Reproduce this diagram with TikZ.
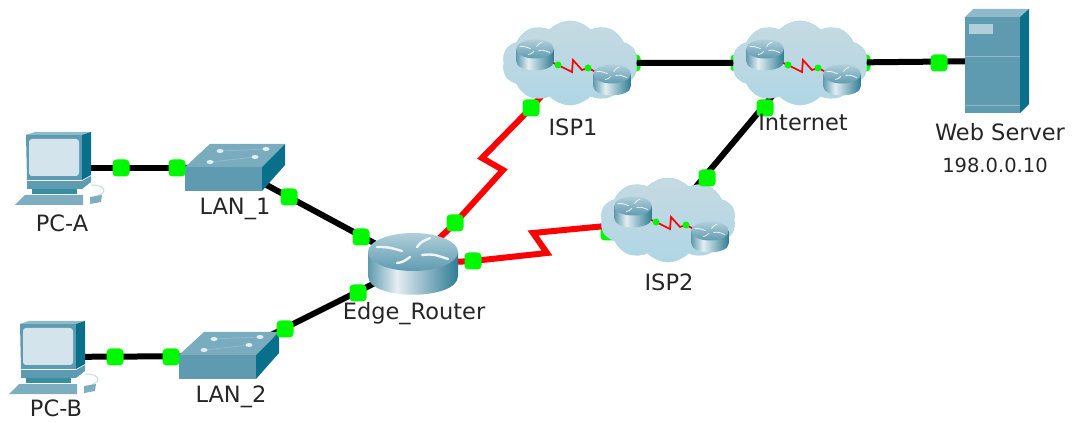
\documentclass[tikz,border=0pt]{standalone}
\usepackage{xcolor}
\usepackage{fontspec}
\setmainfont{DejaVu Sans}
\usetikzlibrary{positioning,shapes.symbols,backgrounds}

\definecolor{iconfront}{HTML}{5F9BB0}
\definecolor{icontop}{HTML}{8FBACA}
\definecolor{iconside}{HTML}{08708A}
\definecolor{portgreen}{HTML}{00F800}
\definecolor{routerdark}{HTML}{5F9AAE}
\definecolor{routerlight}{HTML}{E4EEF2}
\definecolor{routerend}{HTML}{2F7C94}
\definecolor{cloudtop}{HTML}{C6DAE2}
\definecolor{cloudbottom}{HTML}{AFD6E4}
\definecolor{pcscreen}{HTML}{D4E4EC}
\pgfdeclarehorizontalshading{routerside}{100bp}{color(0bp)=(routerdark); color(25bp)=(routerdark); color(41bp)=(routerlight); color(75bp)=(routerend); color(100bp)=(routerend)}

\tikzset{
  device/.style={inner sep=0pt, minimum size=0pt},
  ethlink/.style={line width=6pt, black},
  seriallink/.style={line width=6pt, red, line join=miter},
  portdot/.style={fill=portgreen, rounded corners=4pt, minimum size=17pt, inner sep=0pt},
  minidot/.style={fill=portgreen, circle, minimum size=7pt, inner sep=0pt},
  ispcloud/.style={cloud, cloud puffs=10, cloud puff arc=95, aspect=1.6, inner sep=0pt,
    minimum width=135pt, minimum height=84pt, draw=cloudbottom, line width=.6pt,
    top color=cloudtop, bottom color=cloudbottom},
  devlabel/.style={inner sep=0pt, text=black!85, font=\fontsize{22.5}{26}\selectfont},
  pics/routericon/.style={code={
    \path[shade, shading=routerside] (-45,-12) -- (-45,12) .. controls (-45,37) and (45,37) .. (45,12) -- (45,-12) -- cycle;
    \path[top color=icontop!70!white, bottom color=iconfront] (0,-12) ellipse [x radius=45, y radius=19];
    \draw[white!85!icontop, line width=#1, line cap=round] (-36,-17) .. controls (-25,-17) .. (-11,-13) (4,-17) .. controls (8,-22) .. (17,-26) (9,-9) .. controls (20,-10) .. (35,-5) (-16,-1) .. controls (-10,-2) .. (-3,-7);
  }},
  pics/isprouters/.style={code={
    \coordinate (-pa) at (-12,2);
    \coordinate (-pb) at (18,5);
    \draw[red, line width=1.7pt] (-35,-8) -- (-pa) -- (2,9) -- (3,-3) -- (12,7) -- (-pb) -- (42,17);
    \pic[xscale=.42, yscale=.5] at (-35,-8) {routericon=.8};
    \pic[xscale=.42, yscale=.5] at (42,17) {routericon=.8};
    \node[minidot] (-dota) at (-pa) {};
    \node[minidot] (-dotb) at (-pb) {};
  }},
  pics/switchicon/.style={code={
    \fill[iconfront] (-50,-1) -- (27,-1) -- (27,23) -- (-50,23) -- cycle;
    \fill[icontop!55!iconfront] (-50,-1) -- (-25,-24) -- (50,-24) -- (27,-1) -- cycle;
    \draw[icontop, line width=.8pt] (-15,-17) -- (31,-19) (-25,-6) -- (20,-11);
    \fill[iconside] (27,-1) -- (50,-24) -- (50,-3) -- (27,23) -- cycle;
    \foreach \px/\py in {-15/-17,31/-19,-25/-6,20/-11}
      \fill[white!75!icontop] (\px,\py) ellipse [x radius=3.5, y radius=2];
  }},
  pics/pcicon/.style={code={
    \fill[iconfront] (-26,-33) -- (30,-33) -- (30,12) -- (-25,12) -- cycle;
    \fill[icontop] (-26,-33) -- (-17,-36) -- (39,-36) -- (30,-33) -- cycle;
    \fill[iconside] (30,-33) -- (39,-36) -- (39,7) -- (30,12) -- cycle;
    \fill[pcscreen, rounded corners=3pt] (-23,-29) rectangle (27,8);
    \fill[iconfront] (-25,13) -- (30,13) -- (39,8) -- (39,14) -- (30,21) -- (-25,21) -- cycle;
    \fill[iconside!80!white] (-20,21) rectangle (25,26);
    \fill[icontop!60!iconfront] (-27,27) -- (31,27) -- (31,37) -- (-37,37) -- cycle;
    \draw[icontop!50!white, line width=1pt] (39,17) .. controls (55,17) and (55,25) .. (45,28);
    \fill[icontop!60!iconfront] (38,29) -- (50,27) -- (49,34) -- (38,36) -- cycle;
  }},
  pics/servericon/.style={code={
    \fill[iconfront] (-32,-44) rectangle (23,52);
    \fill[icontop] (-32,-44) -- (-24,-52) -- (32,-52) -- (23,-44) -- cycle;
    \fill[iconside] (23,-44) -- (32,-52) -- (32,43) -- (23,52) -- cycle;
    \fill[icontop!70!white] (-28,-37) rectangle (-4,-27);
    \draw[icontop, line width=.7pt] (-32,-5) -- (23,-5) (-32,44) -- (23,44);
  }}
}

\begin{document}
\begin{tikzpicture}[x=1pt, y=-1pt]
  \useasboundingbox (0,0) rectangle (1072,422);

  % end devices and switches
  \node[device] (pca) at (52,168) {};
  \node[device] (pcb) at (46,357) {};
  \node[device] (lan1) at (235,168) {};
  \node[device] (lan2) at (229,356) {};
  \node[device] (router) at (413,264) {};
  \node[device] (server) at (997,61) {};
  \pic at (pca) {pcicon};
  \pic at (pcb) {pcicon};
  \pic at (lan1) {switchicon};
  \pic at (lan2) {switchicon};
  \pic at (router) {routericon=2.4};
  \pic at (server) {servericon};

  % clouds
  \foreach \cname/\x/\y in {isp1/570/63, internet/800/63, isp2/668/220}
           {
             \node[ispcloud] (\cname) at (\x,\y) {};
             \pic (\cname in) at (\cname) {isprouters};
           }

  % ports
  \foreach \pname/\x/\y in {pa1/121/168, pa2/177/168, pb1/115/357, pb2/171/357,
                            la1/289/197, la2/361/237, lb1/285/329, lb2/358/293,
                            ra1/455/223, ra2/473/261, ia1/531/108, nt1/765/108,
                            nt2/707/178, sv1/939/63}
           {
             \node[portdot] (\pname) at (\x,\y) {};
           }

  % zigzag bends of the serial links
  \coordinate (za) at (503,170);
  \coordinate (zb) at (482,158);
  \coordinate (zc) at (547,253);
  \coordinate (zd) at (533,233);

  \begin{scope}[on background layer]
    \node[portdot] (ih1) at (632,63) {};
    \node[portdot] (ih2) at (739,63) {};
    \node[portdot] (ih3) at (862,63) {};
    \node[portdot] (ih4) at (609,232) {};
    \draw[ethlink] (pca) -- (lan1);
    \draw[ethlink] (pcb) -- (lan2);
    \draw[ethlink] (lan1) -- (router);
    \draw[ethlink] (lan2) -- (router);
    \draw[ethlink] (isp1) -- (internet);
    \draw[ethlink] (internet) -- (server);
    \draw[ethlink] (internet.center) -- (isp2.center);
    \draw[seriallink] (router.center) -- (ra1.center) -- (za) -- (zb) -- (ia1.center) -- (isp1.center);
    \draw[seriallink] (router.center) -- (ra2.center) -- (zc) -- (zd) -- (isp2.center);
  \end{scope}

  % labels
  \foreach \lname/\x/\y/\ltext in {lpca/62/223/PC-A, lpcb/56/408/PC-B, llan1/235/209/LAN\_1,
                                   llan2/231/397/LAN\_2, lrouter/414/314/Edge\_Router,
                                   lisp1/573/127/ISP1, lisp2/669/282/ISP2,
                                   linternet/803/122/Internet, lserver/1000/132/Web Server}
           {
             \node[devlabel] (\lname) at (\x,\y) {\ltext};
           }
  \node[devlabel, font=\fontsize{19.5}{23}\selectfont] (lserverip) at (995,165) {198.0.0.10};
\end{tikzpicture}
\end{document}
